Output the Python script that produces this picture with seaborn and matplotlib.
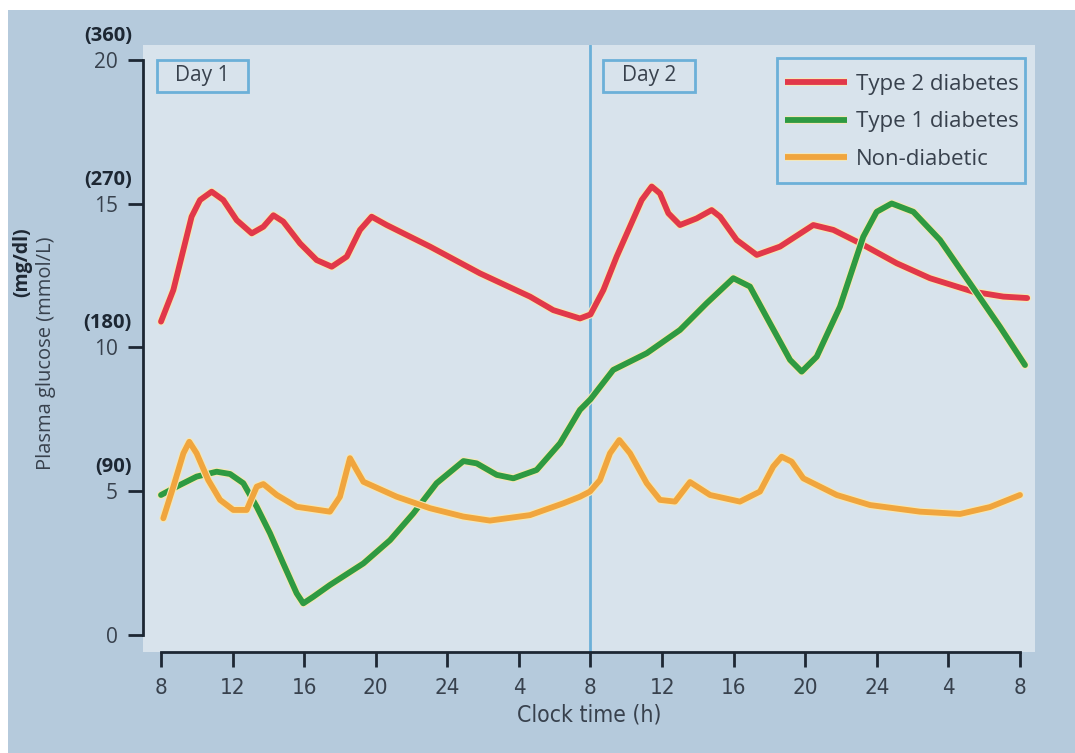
import numpy as np
import pandas as pd
import matplotlib
matplotlib.use("Agg")
import matplotlib.pyplot as plt
import matplotlib.patheffects as pe
from matplotlib.lines import Line2D
from matplotlib.patches import Rectangle
import seaborn as sns

# ---------------- data (hours since 08:00 on day 1, glucose in mmol/L) ----------------
t2_hours = [0.0, 0.69, 1.25, 1.71, 2.18, 2.83, 3.48, 4.23, 5.07, 5.72, 6.28, 6.83, 7.77, 8.7,
            9.54, 10.38, 11.12, 11.77, 12.61, 15.03, 17.82, 20.62, 21.92, 23.41, 24.0,
            24.72, 25.46, 26.2, 26.86, 27.42, 27.88, 28.35, 29.0, 29.93, 30.77, 31.24, 32.17,
            33.29, 34.59, 36.45, 37.57, 39.24, 41.11, 42.97, 45.39, 47.07, 48.4]
t2_glucose = [10.9, 12.0, 13.4, 14.55, 15.13, 15.42, 15.13, 14.43, 13.97, 14.2, 14.6, 14.38, 13.62, 13.04,
              12.81, 13.16, 14.09, 14.55, 14.26, 13.51, 12.58, 11.77, 11.3, 11.01, 11.15,
              12.0, 13.16, 14.2, 15.13, 15.6, 15.36, 14.67, 14.26, 14.49, 14.78, 14.55, 13.74,
              13.22, 13.51, 14.26, 14.09, 13.57, 12.93, 12.41, 11.94, 11.77, 11.72]

t1_hours = [0.0, 1.06, 1.99, 3.11, 3.86, 4.6, 5.35, 6.09, 6.83, 7.58, 7.95, 8.51, 9.44, 11.31,
            12.8, 14.1, 15.4, 16.9, 17.64, 18.76, 19.69, 20.99, 22.3, 23.41, 24.0,
            25.27, 27.14, 29.0, 30.49, 31.98, 32.91, 34.03, 35.15, 35.8, 36.64, 37.94, 39.24,
            39.99, 40.83, 42.04, 43.53, 45.21, 46.88, 48.28]
t1_glucose = [4.87, 5.22, 5.51, 5.68, 5.6, 5.28, 4.46, 3.54, 2.49, 1.45, 1.1, 1.33, 1.74, 2.49,
              3.3, 4.23, 5.28, 6.05, 5.97, 5.57, 5.45, 5.74, 6.67, 7.83, 8.2,
              9.22, 9.8, 10.61, 11.54, 12.41, 12.12, 10.84, 9.57, 9.16, 9.68, 11.42, 13.85,
              14.72, 15.01, 14.72, 13.74, 12.23, 10.72, 9.39]

nd_hours = [0.13, 0.69, 1.25, 1.58, 1.99, 2.64, 3.3, 4.04, 4.79, 5.35, 5.72, 6.47, 7.58, 9.44,
            10.0, 10.56, 10.93, 11.31, 13.17, 15.03, 16.89, 18.38, 20.62, 22.48, 23.41, 23.97,
            24.53, 25.09, 25.61, 26.21, 27.14, 27.88, 28.72, 29.56, 30.68, 32.35, 33.47, 34.21,
            34.68, 35.24, 35.89, 37.76, 39.62, 42.41, 44.65, 46.32, 48.0]
nd_glucose = [4.06, 5.16, 6.32, 6.72, 6.32, 5.39, 4.7, 4.35, 4.35, 5.16, 5.25, 4.87, 4.46, 4.29,
              4.81, 6.15, 5.74, 5.33, 4.81, 4.41, 4.12, 3.98, 4.17, 4.58, 4.81, 4.99,
              5.39, 6.32, 6.78, 6.32, 5.28, 4.7, 4.64, 5.32, 4.87, 4.64, 4.99, 5.86,
              6.2, 6.03, 5.45, 4.87, 4.52, 4.29, 4.21, 4.45, 4.87]

series_names = ["Type 2 diabetes", "Type 1 diabetes", "Non-diabetic"]
xtick_hours = [0, 4, 8, 12, 16, 20, 24, 28, 32, 36, 40, 44, 48]
xtick_labels = ["8", "12", "16", "20", "24", "4", "8", "12", "16", "20", "24", "4", "8"]
ytick_values = [0, 5, 10, 15, 20]
ytick_mgdl = ["", "(90)", "(180)", "(270)", "(360)"]

# ---------------- style ----------------
OUTER = "#b5cadc"
INNER = "#d8e3ec"
RED = "#e1384a"
GREEN = "#2e9a42"
ORANGE = "#f0a53e"
BLUE = "#6cb0d8"
INK = "#1d2733"
TXT = "#38414d"
HALO = "#f6e8b4"

sns.set_theme(style="white")
plt.rcParams["font.family"] = ["Open Sans", "DejaVu Sans"]
COND = dict(fontfamily="DejaVu Sans", fontstretch="condensed")

df = pd.concat([
    pd.DataFrame({"t": t2_hours, "glucose": t2_glucose, "series": series_names[0]}),
    pd.DataFrame({"t": t1_hours, "glucose": t1_glucose, "series": series_names[1]}),
    pd.DataFrame({"t": nd_hours, "glucose": nd_glucose, "series": series_names[2]}),
], ignore_index=True)
palette = {series_names[0]: RED, series_names[1]: GREEN, series_names[2]: ORANGE}

W, H = 1075, 753
fig = plt.figure(figsize=(W / 100, H / 100), dpi=100, facecolor=OUTER)
# white scan margins
fig.patches.append(Rectangle((0, 1 - 10 / H), 1, 10 / H, transform=fig.transFigure,
                             facecolor="white", edgecolor="none", zorder=-5))
fig.patches.append(Rectangle((0, 0), 8 / W, 1, transform=fig.transFigure,
                             facecolor="white", edgecolor="none", zorder=-5))

L, R, T, B = 143, 1035, 45, 652
ax = fig.add_axes([L / W, 1 - B / H, (R - L) / W, (B - T) / H])
ax.set_facecolor(INNER)

ax.axvline(24, color=BLUE, lw=2.0, zorder=1)

sns.lineplot(data=df, x="t", y="glucose", hue="series", palette=palette,
             estimator=None, sort=False, legend=False, linewidth=4.2, ax=ax, zorder=3)
for ln in ax.lines[1:]:
    ln.set_solid_capstyle("round")
    ln.set_solid_joinstyle("round")
    ln.set_path_effects([pe.Stroke(linewidth=5.8, foreground=HALO), pe.Normal()])

px_per_h = 859 / 48
px_per_u = 575 / 20
ax.set_xlim(-(161 - L) / px_per_h, (R - 161) / px_per_h)
ax.set_ylim(-(B - 635) / px_per_u, (635 - T) / px_per_u)

for s in ["top", "right"]:
    ax.spines[s].set_visible(False)
for s in ["left", "bottom"]:
    ax.spines[s].set_color(INK)
    ax.spines[s].set_linewidth(2.0)
ax.spines["left"].set_bounds(0, 20)
ax.spines["bottom"].set_bounds(0, 48)

ax.set_xticks(xtick_hours)
ax.set_xticklabels(xtick_labels, fontsize=16, color=TXT, **COND)
ax.set_yticks(ytick_values)
ax.set_yticklabels([str(v) for v in ytick_values], fontsize=15, color=TXT)
ax.tick_params(axis="both", direction="out", length=11, width=2.0, color=INK,
               left=True, bottom=True)
ax.tick_params(axis="y", pad=7)
ax.tick_params(axis="x", pad=8)

# mg/dl companions
for v, lab in zip(ytick_values, ytick_mgdl):
    if lab:
        ax.text(-(L - 132) / (R - L), v + 24 / px_per_u, lab, transform=ax.get_yaxis_transform(),
                ha="right", va="center", fontsize=14.5, fontweight="bold", color=INK)

ax.set_xlabel("Clock time (h)", fontsize=16.5, color=TXT, labelpad=4, **COND)
ax.set_ylabel("")
fig.text(46 / W, 1 - 353 / H, "Plasma glucose (mmol/L)", rotation=90, ha="center",
         va="center", fontsize=14.5, color=TXT)
fig.text(22 / W, 1 - 227 / H, "(mg/dl)", rotation=90, ha="center", va="top",
         fontsize=14, fontweight="bold", color=INK)

# Day boxes
for x0, x1, lab in [(157, 248, "Day 1"), (603, 695, "Day 2")]:
    ax.add_patch(Rectangle(((x0 - L) / (R - L), (B - 92) / (B - T)), (x1 - x0) / (R - L),
                           32 / (B - T), transform=ax.transAxes, facecolor="none",
                           edgecolor=BLUE, lw=2.0, zorder=4))
    ax.text(((x0 + x1) / 2 - L) / (R - L), (B - 76) / (B - T), lab, transform=ax.transAxes,
            ha="center", va="center", fontsize=15, color=TXT, zorder=5)

# Legend: frame drawn as its own box, entries placed inside it
ax.add_patch(Rectangle(((777 - L) / (R - L), (B - 183) / (B - T)), (1025 - 777) / (R - L),
                       125 / (B - T), transform=ax.transAxes, facecolor=INNER,
                       edgecolor=BLUE, lw=2.0, zorder=6))
handles = []
for name in series_names:
    h = Line2D([0], [0], color=palette[name], lw=4.2, solid_capstyle="butt")
    h.set_path_effects([pe.Stroke(linewidth=5.6, foreground=HALO), pe.Normal()])
    handles.append(h)
leg = ax.legend(handles, series_names, loc="upper left",
                bbox_to_anchor=((785 - L) / (R - L), (B - 74) / (B - T)),
                frameon=False, fontsize=16, handlelength=2.8,
                handletextpad=0.4, labelspacing=0.74, borderpad=0, borderaxespad=0)
leg.set_zorder(7)
for txt in leg.get_texts():
    txt.set_color(TXT)

fig.savefig("out.png", dpi=100, facecolor=OUTER)
